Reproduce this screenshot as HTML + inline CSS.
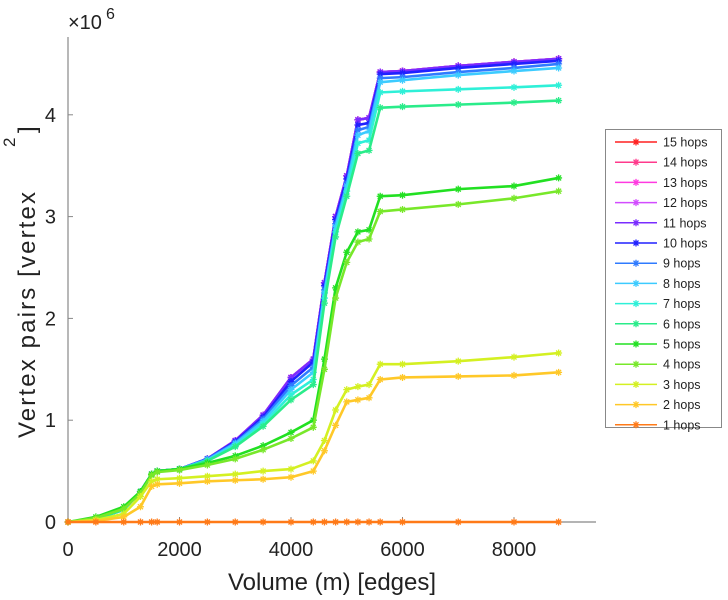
<!DOCTYPE html>
<html><head><meta charset="utf-8"><style>
body{margin:0;background:#fff;}
svg{display:block;font-family:"Liberation Sans",sans-serif;}
</style></head><body>
<svg id="chart" width="728" height="600">
<g id="axes"></g>
<g id="series"></g>
<g id="legend"></g>
</svg>
<script>
const xVals=[0,500,1000,1300,1500,1600,2000,2500,3000,3500,4000,4400,4600,4800,5000,5200,5400,5600,6000,7000,8000,8800];
const s15=[0,0.03,0.12,0.3,0.47,0.5,0.52,0.62,0.8,1.05,1.42,1.6,2.35,3.0,3.4,3.95,3.97,4.42,4.43,4.48,4.52,4.55];
const s14=[0,0.03,0.12,0.3,0.47,0.5,0.52,0.62,0.8,1.05,1.42,1.6,2.35,3.0,3.4,3.95,3.97,4.42,4.43,4.48,4.52,4.55];
const s13=[0,0.03,0.12,0.3,0.47,0.5,0.52,0.62,0.8,1.05,1.42,1.6,2.35,3.0,3.4,3.95,3.97,4.42,4.43,4.48,4.52,4.55];
const s12=[0,0.03,0.12,0.3,0.47,0.5,0.52,0.62,0.8,1.05,1.42,1.6,2.35,3.0,3.4,3.95,3.97,4.42,4.43,4.48,4.52,4.55];
const s11=[0,0.03,0.12,0.3,0.47,0.5,0.52,0.62,0.8,1.05,1.42,1.6,2.35,3.0,3.4,3.95,3.97,4.42,4.43,4.48,4.52,4.55];
const s10=[0,0.03,0.12,0.3,0.47,0.5,0.52,0.62,0.79,1.03,1.38,1.57,2.32,2.97,3.37,3.9,3.92,4.4,4.41,4.46,4.5,4.53];
const s9=[0,0.03,0.12,0.3,0.47,0.5,0.52,0.62,0.78,1.01,1.34,1.52,2.28,2.93,3.33,3.85,3.88,4.36,4.37,4.42,4.46,4.5];
const s8=[0,0.03,0.12,0.3,0.47,0.5,0.52,0.61,0.77,0.99,1.3,1.47,2.25,2.9,3.3,3.8,3.84,4.32,4.34,4.39,4.43,4.46];
const s7=[0,0.03,0.12,0.3,0.47,0.5,0.52,0.6,0.75,0.96,1.25,1.4,2.2,2.85,3.25,3.72,3.75,4.22,4.23,4.25,4.27,4.29];
const s6=[0,0.03,0.12,0.3,0.47,0.5,0.52,0.6,0.74,0.94,1.2,1.35,2.15,2.8,3.2,3.62,3.65,4.07,4.08,4.1,4.12,4.14];
const s5=[0,0.05,0.15,0.3,0.47,0.5,0.52,0.58,0.65,0.75,0.88,1.0,1.6,2.3,2.65,2.85,2.87,3.2,3.21,3.27,3.3,3.38];
const s4=[0,0.04,0.13,0.28,0.46,0.49,0.51,0.56,0.62,0.71,0.82,0.93,1.5,2.2,2.55,2.75,2.78,3.05,3.07,3.12,3.18,3.25];
const s3=[0,0.02,0.08,0.25,0.4,0.42,0.43,0.45,0.47,0.5,0.52,0.6,0.8,1.1,1.3,1.33,1.35,1.55,1.55,1.58,1.62,1.66];
const s2=[0,0.01,0.05,0.15,0.35,0.37,0.38,0.4,0.41,0.42,0.44,0.5,0.7,0.95,1.18,1.2,1.22,1.4,1.42,1.43,1.44,1.47];
const s1=[0,0,0,0,0,0,0,0,0,0,0,0,0,0,0,0,0,0,0,0,0,0];
const seriesList=[s15,s14,s13,s12,s11,s10,s9,s8,s7,s6,s5,s4,s3,s2,s1];
const seriesNames=["15 hops","14 hops","13 hops","12 hops","11 hops","10 hops","9 hops","8 hops","7 hops","6 hops","5 hops","4 hops","3 hops","2 hops","1 hops"];
const colors=["#ff2020","#ff3a8c","#ff3ae0","#d24cff","#7a2cff","#2020ff","#2f7bff","#3ccbff","#2ef0d8","#2aec8a","#22e022","#78e82a","#d4f022","#ffc828","#ff7a18"];
const xTicks=[0,2000,4000,6000,8000];
const yTicks=[0,1,2,3,4];
const NS="http://www.w3.org/2000/svg";
const X0=68,PX=0.05575,Y0=522,PY=101.8;
function xs(v){return X0+v*PX;}
function ys(v){return Y0-v*PY;}
function mk(t,a,p){const e=document.createElementNS(NS,t);for(const k in a)e.setAttribute(k,a[k]);p.appendChild(e);return e;}
const axes=document.getElementById('axes');
let l=mk('line',{x1:X0,y1:37,x2:X0,y2:Y0,stroke:'#888','stroke-width':1.2},axes);


l=mk('line',{x1:X0,y1:Y0,x2:596,y2:Y0,stroke:'#888','stroke-width':1.2},axes);


xTicks.forEach(t=>{mk('line',{x1:xs(t),y1:Y0,x2:xs(t),y2:Y0-5,stroke:'#888'},axes);
const tx=mk('text',{x:xs(t),y:556,'text-anchor':'middle','font-size':20,fill:'#222'},axes);tx.textContent=t;

});
yTicks.forEach(t=>{mk('line',{x1:X0,y1:ys(t),x2:X0+5,y2:ys(t),stroke:'#888'},axes);
const tx=mk('text',{x:56,y:ys(t)+7,'text-anchor':'end','font-size':20,fill:'#222'},axes);tx.textContent=t;

});
let t=mk('text',{x:68,y:29,'font-size':20,fill:'#222'},axes);t.innerHTML='×10<tspan dy="-10" font-size="16" dx="4">6</tspan>';


t=mk('text',{x:332,y:590,'text-anchor':'middle','font-size':24,fill:'#222'},axes);t.textContent='Volume (m) [edges]';


const yt=mk('g',{transform:'translate(35,438) rotate(-90)',fill:'#222'},axes);


t=mk('text',{x:0,y:0,'font-size':24,textLength:246,lengthAdjust:'spacing'},yt);t.textContent='Vertex pairs [vertex';
t=mk('text',{x:291,y:-20,'font-size':17},yt);t.textContent='2';
t=mk('text',{x:305,y:0,'font-size':24},yt);t.textContent=']';
function star(g,x,y,c){const r=3.5;mk('path',{d:`M${x-r},${y}H${x+r}M${x},${y-r}V${y+r}M${x-2.5},${y-2.5}L${x+2.5},${y+2.5}M${x-2.5},${y+2.5}L${x+2.5},${y-2.5}`,stroke:c,'stroke-width':1.3,fill:'none'},g);}
const sg=document.getElementById('series');
seriesList.forEach((d,i)=>{const g=mk('g',{},sg);


mk('polyline',{points:d.map((v,j)=>xs(xVals[j])+','+ys(v)).join(' '),fill:'none',stroke:colors[i],'stroke-width':2.6,'stroke-linejoin':'round'},g);
d.forEach((v,j)=>star(g,xs(xVals[j]),ys(v),colors[i]));});
const lg=document.getElementById('legend');
let r=mk('rect',{x:605.5,y:129.5,width:116,height:298,fill:'#fff',stroke:'#888'},lg);


seriesNames.forEach((n,i)=>{const y=142+i*20.2;const g=mk('g',{},lg);


mk('line',{x1:615,y1:y,x2:657,y2:y,stroke:colors[i],'stroke-width':1.5},g);star(g,636,y,colors[i]);
const tx=mk('text',{x:663,y:y+4.5,'font-size':12.5,fill:'#222'},g);tx.textContent=n;});
</script>
</body></html>
